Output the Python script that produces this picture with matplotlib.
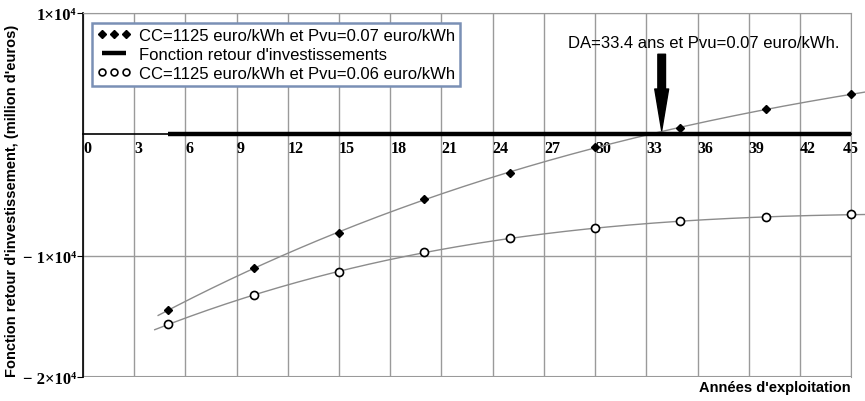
import numpy as np
import matplotlib.pyplot as plt

plt.rcParams['font.family'] = ['Liberation Sans', 'DejaVu Sans']

# data
years = [5, 10, 15, 20, 25, 30, 35, 40, 45]
gain_007 = [-14500, -11000, -8100, -5350, -3150, -1050, 550, 2050, 3300]
gain_006 = [-15650, -13250, -11350, -9700, -8550, -7750, -7150, -6850, -6600]
retour_x = [5, 45]
retour_y = [0, 0]
xticks = list(range(0, 46, 3))
yticks = [10000, -10000, -20000]
ytick_labels = ['1×10⁴', '− 1×10⁴', '− 2×10⁴']
lab_007 = 'CC=1125 euro/kWh et Pvu=0.07 euro/kWh'
lab_006 = 'CC=1125 euro/kWh et Pvu=0.06 euro/kWh'
lab_ret = "Fonction retour d'investissements"
da_text = 'DA=33.4 ans et Pvu=0.07 euro/kWh.'
da_x = 33.9

fig = plt.figure(figsize=(8.65, 4.02), dpi=100)
ax = fig.add_axes([0.096, 0.0597, 0.888, 0.9055])

ax.set_xlim(0, 45)
ax.set_ylim(-20000, 10000)

# trend lines through the points
xs = np.linspace(4.4, 45.8, 200)
c1 = np.polyfit(years, gain_007, 3)
ax.plot(xs, np.polyval(c1, xs), color='#8c8c8c', lw=1, clip_on=False, zorder=2)
xs2 = np.linspace(4.2, 45.8, 200)
c2 = np.polyfit(years, gain_006, 3)
ax.plot(xs2, np.polyval(c2, xs2), color='#8c8c8c', lw=1, clip_on=False, zorder=2)

ax.plot(retour_x, retour_y, color='black', lw=3.2, solid_capstyle='butt', zorder=4, label=lab_ret)
ax.plot(years, gain_007, 'D', color='black', ms=4.5, zorder=5, clip_on=False, label=lab_007)
ax.plot(years, gain_006, 'o', mfc='white', mec='black', mew=1.2, ms=5.8, zorder=5, clip_on=False,
        label=lab_006)

# grid
ax.set_xticks(xticks)
ax.set_yticks(yticks)
ax.set_yticklabels(ytick_labels, fontsize=12, fontfamily='Liberation Serif', fontweight='bold')
ax.grid(True, color='#9a9a9a', lw=1)
ax.set_axisbelow(True)

ax.spines['bottom'].set_position(('data', 0))
ax.spines['bottom'].set_color('black')
ax.spines['bottom'].set_linewidth(1.2)
ax.spines['left'].set_color('black')
ax.spines['left'].set_linewidth(1.2)
ax.spines['top'].set_color('#9a9a9a')
ax.spines['right'].set_color('#9a9a9a')
ax.axhline(-20000, color='#9a9a9a', lw=1.5)

ax.tick_params(axis='x', direction='in', length=0, pad=4)
ax.tick_params(axis='y', length=4, pad=1)
xlabs = ax.get_xticklabels()
for lab in xlabs:
    lab.set_ha('left')
    lab.set_fontfamily('Liberation Serif')
    lab.set_fontsize(11.5)
    lab.set_fontweight('bold')
xlabs[-1].set_ha('center')

# annotation arrow
ax.annotate('', xy=(da_x, 300), xytext=(da_x, 6600),
            arrowprops=dict(facecolor='black', edgecolor='black', width=5.5, headwidth=10,
                            headlength=30), zorder=6)
ax.text(28.4, 7600, da_text, fontsize=12, va='center', ha='left')

# legend
h = ax.get_legend_handles_labels()
order = [1, 0, 2]
leg = ax.legend([h[0][i] for i in order], [h[1][i] for i in order],
                loc='upper left', bbox_to_anchor=(0.012, 0.973), numpoints=3,
                fontsize=12, fancybox=False, framealpha=1, borderpad=0.3,
                handlelength=2.0, handletextpad=0.5, labelspacing=0.25, borderaxespad=0,
                markerscale=0.85)
leg.get_frame().set_edgecolor('#7a90b5')
leg.get_frame().set_linewidth(1.8)

fig.text(0.014, 0.5, "Fonction retour d'investissement, (million d'euros)", rotation=90,
         fontsize=10.5, fontweight='bold', va='center', ha='center')
fig.text(0.983, 0.018, "Années d'exploitation", fontsize=10.5, fontweight='bold',
         ha='right', va='bottom')

fig.savefig('out.png', dpi=100)
